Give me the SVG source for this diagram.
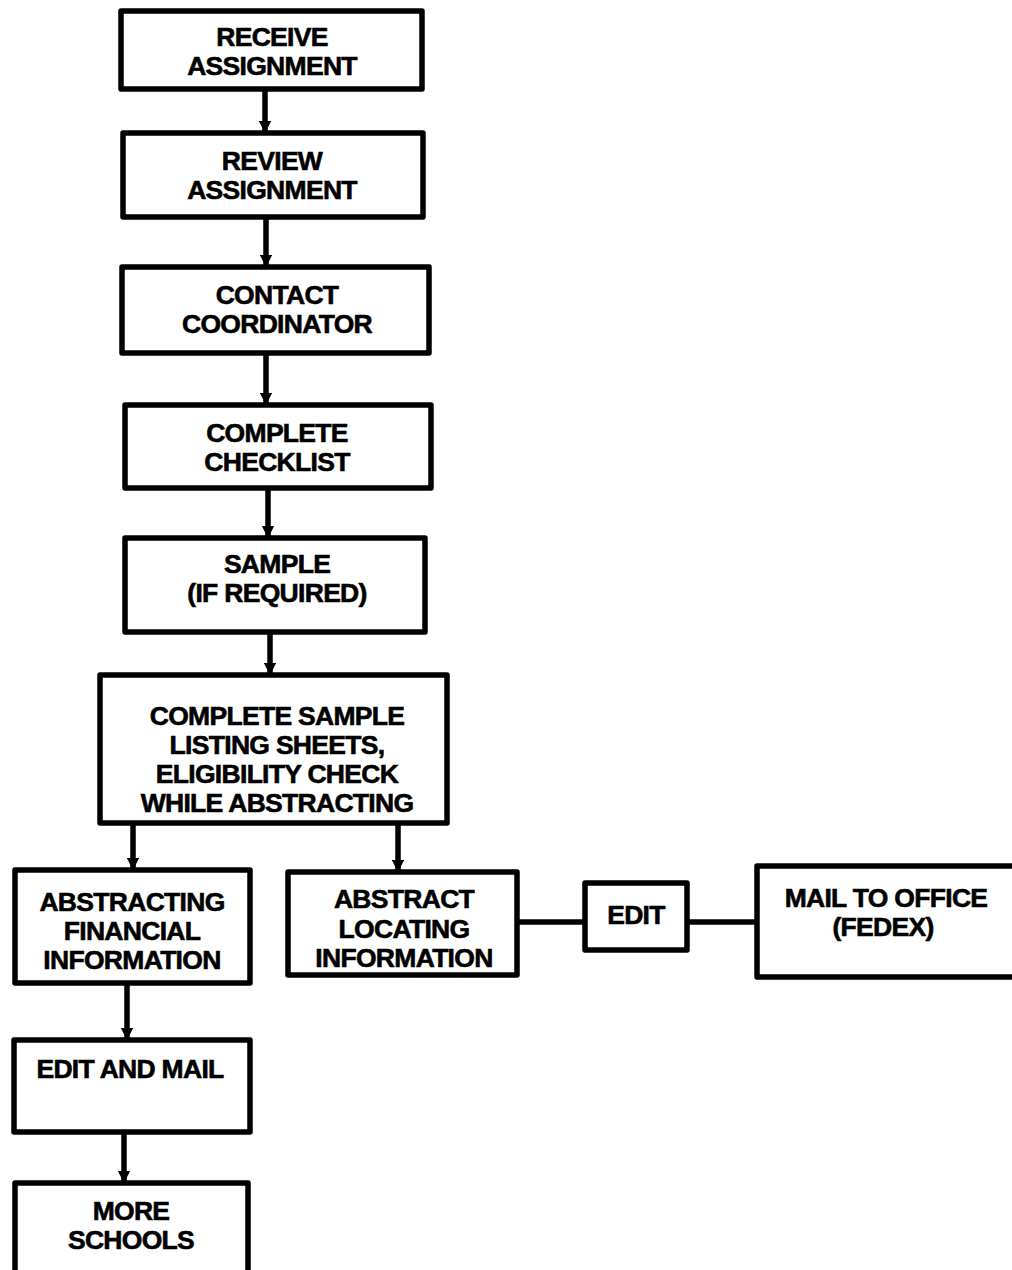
<svg xmlns="http://www.w3.org/2000/svg" width="1012" height="1270" viewBox="0 0 1012 1270">
<style>
.box{fill:#fff;stroke:#000;stroke-width:5.5;stroke-linejoin:round}
.t{font-family:"Liberation Sans",Arial,sans-serif;font-weight:bold;font-size:26.5px;fill:#000;stroke:#000;stroke-width:0.6;text-anchor:middle;letter-spacing:-0.7px}
.c{fill:none;stroke:#000;stroke-width:5.5}
</style>
<defs>
<marker id="ah" viewBox="0 0 10 10" refX="9" refY="5" markerWidth="2.2" markerHeight="2.2" orient="auto" markerUnits="strokeWidth">
<path d="M0,0 L10,5 L0,10 z" fill="#000"/>
</marker>
</defs>
<rect width="1012" height="1270" fill="#fff"/>
<g id="connectors">
<line class="c" x1="265" y1="88" x2="265" y2="132" marker-end="url(#ah)"/>
<line class="c" x1="266" y1="217" x2="266" y2="266" marker-end="url(#ah)"/>
<line class="c" x1="266" y1="353" x2="266" y2="404" marker-end="url(#ah)"/>
<line class="c" x1="268" y1="488" x2="268" y2="537" marker-end="url(#ah)"/>
<line class="c" x1="270" y1="632" x2="270" y2="674" marker-end="url(#ah)"/>
<line class="c" x1="133" y1="823" x2="133" y2="869" marker-end="url(#ah)"/>
<line class="c" x1="398" y1="823" x2="398" y2="871" marker-end="url(#ah)"/>
<line class="c" x1="127" y1="983" x2="127" y2="1039" marker-end="url(#ah)"/>
<line class="c" x1="124" y1="1132" x2="124" y2="1182" marker-end="url(#ah)"/>
<line class="c" x1="517" y1="922" x2="585" y2="922"/>
<line class="c" x1="687" y1="922" x2="757" y2="922"/>
</g>
<g id="n1"><rect class="box" x="121" y="11" width="301" height="78"/>
<text class="t" x="272" y="46">RECEIVE</text><text class="t" x="272" y="75">ASSIGNMENT</text></g>
<g id="n2"><rect class="box" x="123" y="133" width="300" height="84"/>
<text class="t" x="272" y="170">REVIEW</text><text class="t" x="272" y="199">ASSIGNMENT</text></g>
<g id="n3"><rect class="box" x="122" y="267" width="307" height="86"/>
<text class="t" x="277" y="304">CONTACT</text><text class="t" x="277" y="333">COORDINATOR</text></g>
<g id="n4"><rect class="box" x="125" y="405" width="306" height="83"/>
<text class="t" x="277" y="442">COMPLETE</text><text class="t" x="277" y="471">CHECKLIST</text></g>
<g id="n5"><rect class="box" x="125" y="538" width="300" height="94"/>
<text class="t" x="277" y="573">SAMPLE</text><text class="t" x="277" y="602">(IF REQUIRED)</text></g>
<g id="n6"><rect class="box" x="100" y="675" width="347" height="148"/>
<text class="t" x="277" y="725">COMPLETE SAMPLE</text><text class="t" x="277" y="754">LISTING SHEETS,</text><text class="t" x="277" y="783">ELIGIBILITY CHECK</text><text class="t" x="277" y="812">WHILE ABSTRACTING</text></g>
<g id="n7"><rect class="box" x="15" y="870" width="235" height="113"/>
<text class="t" x="132" y="911">ABSTRACTING</text><text class="t" x="132" y="940">FINANCIAL</text><text class="t" x="132" y="969">INFORMATION</text></g>
<g id="n8"><rect class="box" x="288" y="872" width="229" height="103"/>
<text class="t" x="404" y="908">ABSTRACT</text><text class="t" x="404" y="938">LOCATING</text><text class="t" x="404" y="967">INFORMATION</text></g>
<g id="n9"><rect class="box" x="585" y="883" width="102" height="67"/>
<text class="t" x="636" y="924">EDIT</text></g>
<g id="n10"><rect class="box" x="757" y="866" width="270" height="111"/>
<text class="t" x="886" y="907">MAIL TO OFFICE</text><text class="t" x="883" y="936">(FEDEX)</text></g>
<g id="n11"><rect class="box" x="14" y="1040" width="236" height="92"/>
<text class="t" x="130" y="1078">EDIT AND MAIL</text></g>
<g id="n12"><rect class="box" x="15" y="1183" width="233" height="100"/>
<text class="t" x="131" y="1220">MORE</text><text class="t" x="131" y="1249">SCHOOLS</text></g>
</svg>
